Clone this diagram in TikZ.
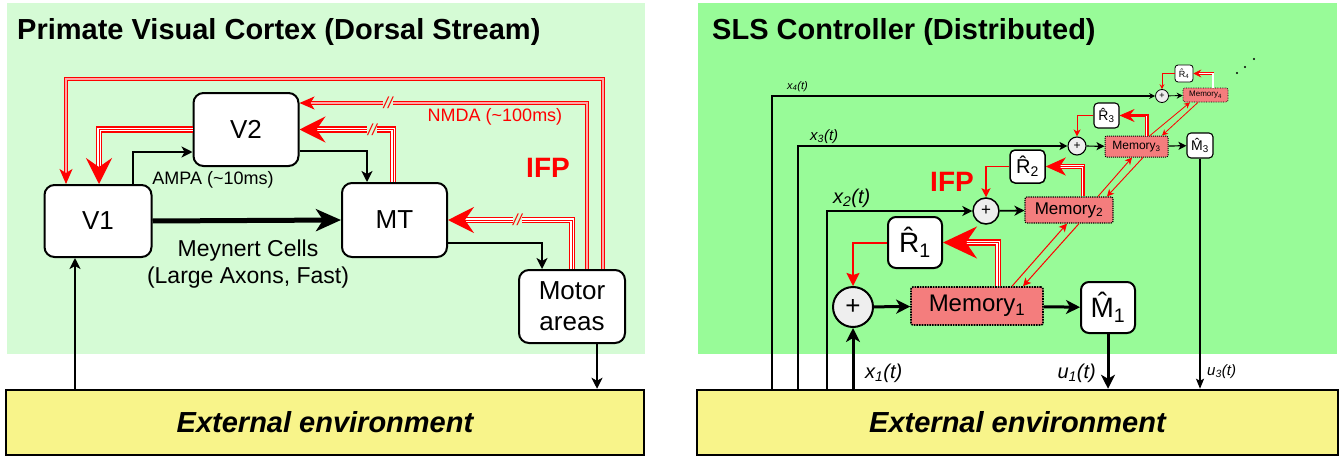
\documentclass[tikz,border=0pt]{standalone}
\usepackage{fontspec}
\setmainfont{Liberation Sans}
\usetikzlibrary{positioning,arrows.meta}
\definecolor{cortexbg}{HTML}{D5FBD5}
\definecolor{slsbg}{HTML}{98FB98}
\definecolor{envyellow}{HTML}{F8F48A}
\definecolor{memred}{HTML}{F47D7D}
\definecolor{sumgray}{HTML}{EEEEEE}
\newcommand\fsz[1]{\fontsize{#1}{#1}\selectfont}

\begin{document}
\begin{tikzpicture}[x=1pt, y=-1pt,
  area/.style={draw, fill=white, line width=2pt, rounded corners=10pt,
               inner sep=0pt, align=center, font=\fsz{26}},
  envbox/.style={draw, fill=envyellow, line width=2.5pt, inner sep=0pt,
                 minimum height=65pt, font=\fsz{29}\bfseries\itshape},
  panel/.style={inner sep=0pt, anchor=base west, font=\fsz{29}\bfseries},
  lbl/.style={inner sep=0pt},
  ifplbl/.style={inner sep=0pt, text=red, font=\fsz{28}\bfseries},
  slash/.style={fill=cortexbg, text=red, inner sep=0.5pt, font=\fsz{16}\itshape},
  blk/.style={-{Stealth[length=11pt, width=11pt, inset=3pt]}, line width=1.8pt},
  fast/.style={-{Stealth[length=25pt, width=22pt, inset=7pt]}, line width=5pt},
  nmda/.style={-{Stealth[length=15pt, width=13pt, inset=4pt]}, draw=red,
               double=red!35!white, line width=1.1pt, double distance=1.2pt},
  ifp/.style={-{Stealth[length=26pt, width=26pt, inset=9pt]}, draw=red,
              double=white, line width=1.4pt, double distance=3.4pt},
  core/.style={draw=red, line width=#1},
  core/.default=0.8pt,
  sum/.style={circle, draw, fill=sumgray, inner sep=0pt},
  mem/.style={draw, densely dotted, fill=memred, rounded corners=2pt, inner sep=0pt},
  hatbox/.style={draw, fill=white, inner sep=0pt},
  redarr/.style={draw=red, -{Stealth[length=#1, width=#1, inset=2pt]}},
]
\useasboundingbox (0,0) rectangle (1343,460);

% ---------- left panel: visual cortex ----------
\fill[cortexbg] (7,3) rectangle (645,354);
\node[panel] (ltitle) at (17,40) {Primate Visual Cortex (Dorsal Stream)};

\node[area, minimum width=107pt, minimum height=72pt] (v1) at (98,221) {V1};
\node[area, minimum width=105pt, minimum height=73pt] (v2) at (246,129.5) {V2};
\node[area, minimum width=105pt, minimum height=74pt] (mt) at (394.5,220) {MT};
\node[area, minimum width=106pt, minimum height=73pt,
      font=\fontsize{26}{31}\selectfont] (motor) at (572,306.5) {Motor\\areas};
\node[envbox, minimum width=638pt] (lenv) at (325,422.5) {External environment};

% feedforward
\draw[fast] (v1.east) -- (mt.west);
\node[lbl, align=center, font=\fontsize{23}{27}\selectfont] (meyn) at (248,264)
  {Meynert Cells\\(Large Axons, Fast)};
\draw[blk] ([xshift=35pt]v1.north) |- ([yshift=-22.5pt]v2.west);
\node[lbl, font=\fsz{18}] (ampa) at (213,180) {AMPA (\textasciitilde10ms)};
\draw[blk] ([yshift=-21.5pt]v2.east) -| ([xshift=-27.5pt]mt.north);
\draw[blk] ([yshift=-23pt]mt.east) -| ([xshift=-30pt]motor.north);
\draw[blk] ([xshift=25pt]motor.south) -- ([xshift=25pt]motor.south |- lenv.north);
\coordinate (v1in) at ([xshift=-23pt]v1.south);
\draw[blk] (v1in |- lenv.north) -- (v1in);

% feedback (IFP)
\draw[nmda] ([xshift=31pt]motor.north) -- ++(0,-190) -| ([xshift=-32pt]v1.north);
\draw[nmda] ([xshift=15pt]motor.north) |- node[slash, pos=0.846] {//}
  ([yshift=26.5pt]v2.east);
\node[lbl, text=red, font=\fsz{18}] (nmdalbl) at (495,117) {NMDA (\textasciitilde100ms)};
\draw[ifp] ([xshift=-1.5pt]mt.north) |- (v2.east);
\draw[core, shorten >=12pt] ([xshift=-1.5pt]mt.north) |- node[slash, pos=0.61] {//} (v2.east);
\draw[ifp] (v2.west) -| ([xshift=1pt]v1.north);
\draw[core, shorten >=12pt] (v2.west) -| ([xshift=1pt]v1.north);
\draw[ifp] (motor.north) |- (mt.east);
\draw[core, shorten >=12pt] (motor.north) |- node[slash, pos=0.72] {//} (mt.east);
\node[ifplbl] (ifpl) at (548,168) {IFP};

% ---------- right panel: SLS controller ----------
\fill[slsbg] (698,3) rectangle (1337,354);
\node[panel] (rtitle) at (712,40) {SLS Controller (Distributed)};
\node[envbox, minimum width=641pt] (renv) at (1017.5,422.5) {External environment};

% subsystem 1
\node[sum, minimum size=40pt, line width=2pt, font=\fsz{26}] (s1) at (853,307) {+};
\node[mem, minimum width=132pt, minimum height=38pt, line width=1.6pt,
      font=\fsz{24}] (m1) at (977,306) {Memory\textsubscript{1}};
\node[hatbox, minimum width=54pt, minimum height=51pt, line width=2pt,
      rounded corners=8pt, font=\fsz{28}] (r1) at (915,242.5) {\^{R}\textsubscript{1}};
\node[hatbox, minimum width=54pt, minimum height=51pt, line width=2pt,
      rounded corners=8pt, font=\fsz{28}] (mh1) at (1108,307.5) {\^{M}\textsubscript{1}};

% subsystem 2
\node[sum, minimum size=26pt, line width=1.5pt, font=\fsz{17}] (s2) at (986,211) {+};
\node[mem, minimum width=88pt, minimum height=26pt, line width=1.2pt,
      font=\fsz{17}] (m2) at (1069,210) {Memory\textsubscript{2}};
\node[hatbox, minimum width=35pt, minimum height=33pt, line width=1.5pt,
      rounded corners=5pt, font=\fsz{20}] (r2) at (1027.5,166.5) {\^{R}\textsubscript{2}};

% subsystem 3
\node[sum, minimum size=18pt, line width=1.1pt, font=\fsz{12}] (s3) at (1077,146) {+};
\node[mem, minimum width=63pt, minimum height=21pt, line width=1pt,
      font=\fsz{12}] (m3) at (1136.5,146.5) {Memory\textsubscript{3}};
\node[hatbox, minimum width=25pt, minimum height=25pt, line width=1.1pt,
      rounded corners=4pt, font=\fsz{14}] (r3) at (1106.5,115.5) {\^{R}\textsubscript{3}};
\node[hatbox, minimum width=26pt, minimum height=25pt, line width=1.1pt,
      rounded corners=4pt, font=\fsz{14}] (mh3) at (1200,145.5) {\^{M}\textsubscript{3}};

% subsystem 4
\node[sum, minimum size=13pt, line width=0.8pt, font=\fsz{9}] (s4) at (1162,96) {+};
\node[mem, minimum width=45pt, minimum height=14pt, line width=0.7pt,
      font=\fsz{8}] (m4) at (1205.5,95) {Memory\textsubscript{4}};
\node[hatbox, minimum width=18pt, minimum height=17pt, line width=0.8pt,
      rounded corners=3pt, font=\fsz{9}] (r4) at (1184,73.5) {\^{R}\textsubscript{4}};
\foreach \d in {(1237,73),(1245,67),(1254,59)} \fill \d circle (1.2);

% local loops
\draw[line width=3pt, -{Stealth[length=14pt, width=14pt, inset=4pt]}] (s1) -- (m1);
\draw[line width=3pt, -{Stealth[length=14pt, width=14pt, inset=4pt]}] (m1) -- (mh1);
\draw[line width=1.8pt, -{Stealth[length=10pt, width=10pt, inset=3pt]}] (s2) -- (m2);
\draw[line width=1.2pt, -{Stealth[length=8pt, width=8pt, inset=2pt]}] (s3) -- (m3);
\draw[line width=1.2pt, -{Stealth[length=8pt, width=8pt, inset=2pt]}] (m3) -- (mh3);
\draw[line width=0.9pt, -{Stealth[length=6pt, width=6pt, inset=2pt]}] (s4) -- (m4);

% IFP feedback
\draw[draw=red, double=white, line width=1.4pt, double distance=3.8pt,
      -{Stealth[length=34pt, width=32pt, inset=11pt]}] ([xshift=21pt]m1.north) |- (r1.east);
\draw[core, shorten >=15pt] ([xshift=21pt]m1.north) |- (r1.east);
\draw[redarr=13pt, line width=2pt] (r1.west) -| (s1.north);
\draw[draw=red, double=white, line width=1pt, double distance=2.6pt,
      -{Stealth[length=20pt, width=18pt, inset=6pt]}] ([xshift=14pt]m2.north) |- (r2.east);
\draw[core=0.6pt, shorten >=9pt] ([xshift=14pt]m2.north) |- (r2.east);
\draw[redarr=9pt, line width=1.4pt] (r2.west) -| (s2.north);
\node[ifplbl] (ifpr) at (952,182) {IFP};
\draw[draw=red, double=white, line width=0.8pt, double distance=1.8pt,
      -{Stealth[length=15pt, width=13pt, inset=5pt]}] ([xshift=10.5pt]m3.north) |- (r3.east);
\draw[core=0.5pt, shorten >=7pt] ([xshift=10.5pt]m3.north) |- (r3.east);
\draw[redarr=7pt, line width=1pt] (r3.west) -| (s3.north);
\draw[draw=red, double=white, line width=0.6pt, double distance=1.2pt,
      -{Stealth[length=8pt, width=8pt, inset=3pt]}] ([xshift=7.5pt]m4.north) |- (r4.east);
\draw[redarr=5pt, line width=0.8pt] (r4.west) -| (s4.north);

% neighbour communication
\draw[redarr=8pt, line width=1pt] ([xshift=35pt]m1.north) -- ([xshift=-2pt]m2.south);
\draw[redarr=8pt, line width=1pt] ([xshift=10pt]m2.south) -- ([xshift=46pt]m1.north);
\draw[redarr=7pt, line width=0.9pt] ([xshift=29pt]m2.north) -- ([xshift=-4.5pt]m3.south);
\draw[redarr=7pt, line width=0.9pt] ([xshift=6.5pt]m3.south) -- ([xshift=38pt]m2.north);
\draw[redarr=6pt, line width=0.8pt] ([xshift=13.5pt]m3.north) -- ([xshift=-15.5pt]m4.south);
\draw[redarr=6pt, line width=0.8pt] ([xshift=-7.5pt]m4.south) -- ([xshift=25.5pt]m3.north);

% states and inputs
\coordinate (x2in) at (827,390);
\coordinate (x3in) at (798,390);
\coordinate (x4in) at (772,390);
\draw[line width=3pt, -{Stealth[length=14pt, width=14pt, inset=4pt]}] (s1 |- renv.north) -- (s1);
\draw[line width=1.5pt, -{Stealth[length=10pt, width=10pt, inset=3pt]}] (x2in) |- (s2);
\draw[line width=1.3pt, -{Stealth[length=8pt, width=8pt, inset=2pt]}] (x3in) |- (s3);
\draw[line width=1.1pt, -{Stealth[length=6pt, width=6pt, inset=2pt]}] (x4in) |- (s4);
\draw[line width=3pt, -{Stealth[length=14pt, width=14pt, inset=4pt]}] (mh1) -- (mh1 |- renv.north);
\draw[line width=1.2pt, -{Stealth[length=10pt, width=8pt, inset=2pt]}] (mh3) -- (mh3 |- renv.north);

\node[lbl, anchor=base west, font=\fsz{20}\itshape] (x1lbl) at (865,378) {x\textsubscript{1}(t)};
\node[lbl, anchor=base west, font=\fsz{20}\itshape] (x2lbl) at (833,203) {x\textsubscript{2}(t)};
\node[lbl, anchor=base west, font=\fsz{15}\itshape] (x3lbl) at (810,140) {x\textsubscript{3}(t)};
\node[lbl, anchor=base west, font=\fsz{11}\itshape] (x4lbl) at (787,89) {x\textsubscript{4}(t)};
\node[lbl, anchor=base east, font=\fsz{20}\itshape] (u1lbl) at (1096,378) {u\textsubscript{1}(t)};
\node[lbl, anchor=base west, font=\fsz{15}\itshape] (u3lbl) at (1207,375) {u\textsubscript{3}(t)};
\end{tikzpicture}
\end{document}
